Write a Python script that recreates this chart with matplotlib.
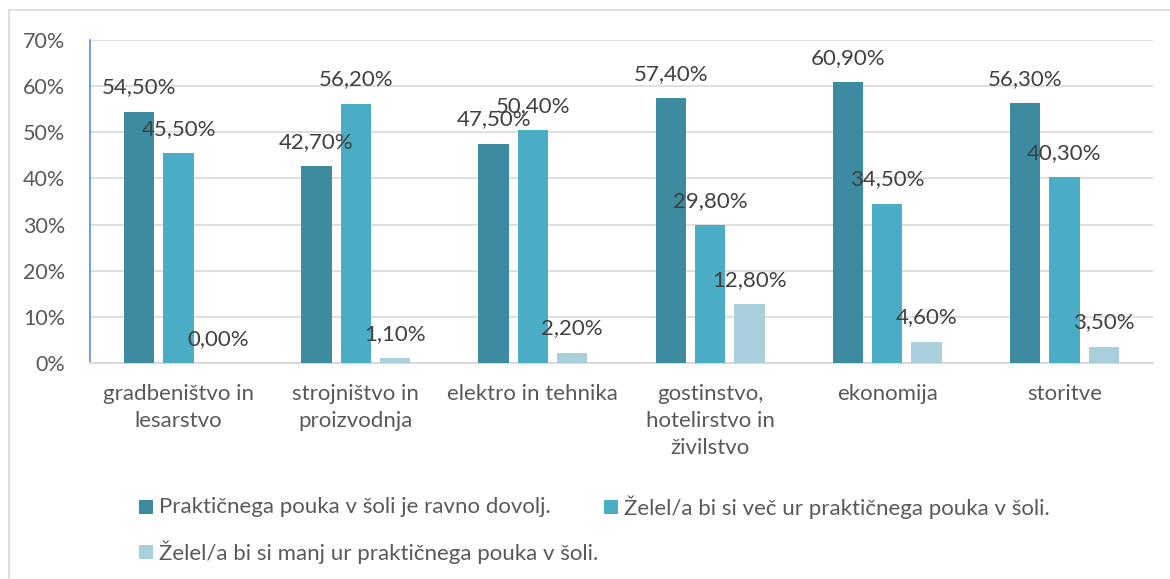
import matplotlib
matplotlib.use("Agg")
import matplotlib.pyplot as plt
import matplotlib.transforms as mtransforms
from matplotlib.patches import Rectangle
from matplotlib.lines import Line2D
import numpy as np

categories = ["gradbeništvo in\nlesarstvo", "strojništvo in\nproizvodnja", "elektro in tehnika",
              "gostinstvo,\nhotelirstvo in\nživilstvo", "ekonomija", "storitve"]
series_names = ["Praktičnega pouka v šoli je ravno dovolj.",
                "Želel/a bi si več ur praktičnega pouka v šoli.",
                "Želel/a bi si manj ur praktičnega pouka v šoli."]
s1 = [54.5, 42.7, 47.5, 57.4, 60.9, 56.3]
s2 = [45.5, 56.2, 50.4, 29.8, 34.5, 40.3]
s3 = [0.0, 1.1, 2.2, 12.8, 4.6, 3.5]
yticks = [0, 10, 20, 30, 40, 50, 60, 70]

colors = ["#3C8BA1", "#4BACC6", "#AACFDC"]
txt = "#595959"
plt.rcParams['font.family'] = ['Lato', 'DejaVu Sans']
FS = 16

W, H = 1170, 579
fig = plt.figure(figsize=(W/100, H/100), dpi=100)
ax = fig.add_axes([90/W, 1-363/H, (1153-90)/W, (363-40)/H])

x = np.arange(len(categories))
step, bw = 0.222, 0.172
for i, (vals, c) in enumerate(zip([s1, s2, s3], colors)):
    xs = x + (i-1)*step
    ax.bar(xs, vals, width=bw, color=c, zorder=3)
    for xx, v in zip(xs, vals):
        ax.annotate(f"{v:.2f}%".replace(".", ","), (xx, v), xytext=(0, 17.5),
                    textcoords="offset points", ha="center", va="center",
                    fontsize=FS, color="#404040", zorder=5)

ax.set_xlim(-0.5, len(categories)-0.5)
ax.set_ylim(0, 70)
ax.set_yticks(yticks)
ax.set_yticklabels([f"{t}%" for t in yticks], fontsize=15.5, color=txt)
ax.tick_params(axis='y', length=0, pad=18)
ax.set_xticks([])
ax.grid(axis='y', color="#D9D9D9", linewidth=1.2, zorder=0)
for s in ["top", "right"]:
    ax.spines[s].set_visible(False)
ax.spines["left"].set_color("#5B8BD0")
ax.spines["left"].set_linewidth(1.2)
ax.spines["bottom"].set_color("#D9D9D9")
ax.spines["bottom"].set_linewidth(1.5)

trans = mtransforms.blended_transform_factory(ax.transData, fig.transFigure)
for xi, cat in zip(x, categories):
    ax.text(xi, 1-384/H, cat, transform=trans, ha="center", va="top",
            fontsize=FS, color=txt, linespacing=1.45)

# outer frame
fig.add_artist(Line2D([9/W, 9/W], [0, 1-10/H], transform=fig.transFigure, color="#D9D9D9", lw=1.2))
fig.add_artist(Line2D([9/W, 1], [1-10/H, 1-10/H], transform=fig.transFigure, color="#D9D9D9", lw=1.2))

# legend (manual placement to match layout)
leg_pos = [(139, 507), (604, 507), (139, 552)]
for (lx, ly), name, c in zip(leg_pos, series_names, colors):
    fig.add_artist(Rectangle((lx/W, 1-(ly+7)/H), 14/W, 14/H, transform=fig.transFigure,
                             color=c, lw=0))
    fig.text((lx+20)/W, 1-ly/H, name, ha="left", va="center", fontsize=FS, color=txt)

fig.savefig("out.png", dpi=100)
